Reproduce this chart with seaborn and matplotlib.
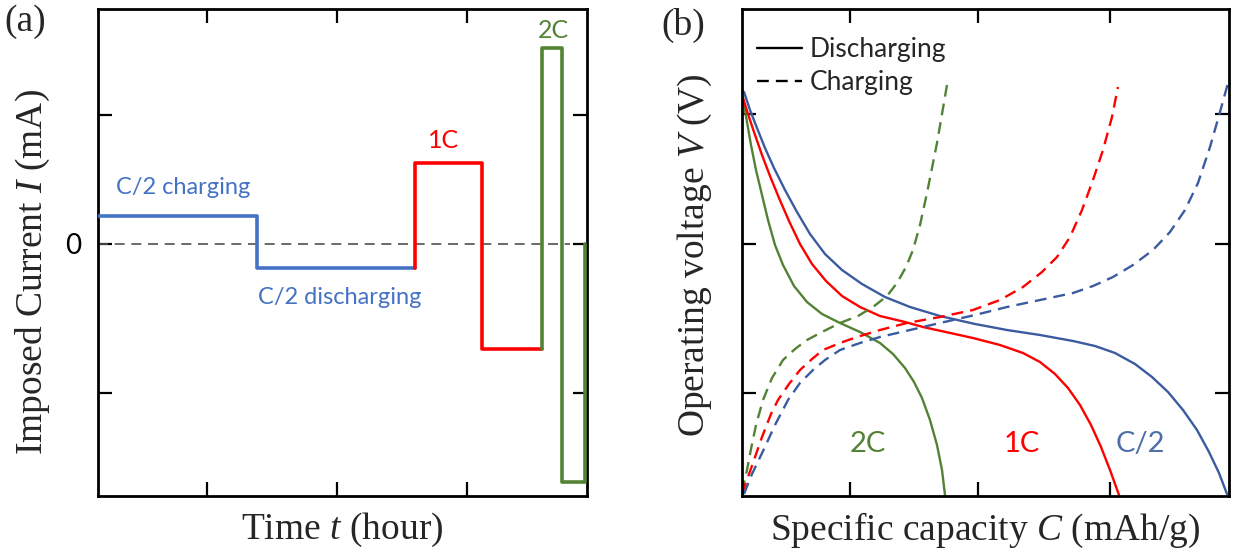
import numpy as np
import pandas as pd
import matplotlib
matplotlib.use("Agg")
import matplotlib.pyplot as plt
from matplotlib.lines import Line2D
import seaborn as sns

# ---------------- data ----------------
# Panel (a): imposed current steps (time, current)
t_half = [0.0, 1.59, 3.17]
I_half = [0.28, -0.24, -0.24]
t_1c = [3.17, 3.17, 3.84, 4.44]
I_1c = [-0.24, 0.81, -1.05, -1.05]
t_2c = [4.44, 4.44, 4.64, 4.87, 4.87]
I_2c = [-1.05, 1.96, -2.38, -2.38, 0.0]

a_xticks = [1.09, 2.39, 3.69]
a_yticks = [1.29, 0.0, -1.49]
a_yticklabels = ["", "0", ""]

# Panel (b): voltage vs capacity curves (capacity, voltage) in arbitrary units
dis_half_c = [0.02, 0.08, 0.15, 0.23, 0.32, 0.43, 0.55, 0.68, 0.83, 1.00, 1.20, 1.43, 1.68, 1.98, 2.33, 2.65, 2.98, 3.31, 3.53, 3.73, 3.93, 4.10, 4.26, 4.41, 4.55, 4.67, 4.77, 4.85]
dis_half_v = [4.04, 3.86, 3.68, 3.48, 3.28, 3.06, 2.84, 2.62, 2.42, 2.26, 2.12, 1.99, 1.89, 1.80, 1.72, 1.66, 1.61, 1.55, 1.50, 1.43, 1.32, 1.19, 1.04, 0.86, 0.66, 0.44, 0.23, 0.02]
dis_1c_c = [0.01, 0.06, 0.12, 0.20, 0.28, 0.37, 0.47, 0.58, 0.70, 0.84, 1.00, 1.18, 1.38, 1.63, 1.81, 2.31, 2.58, 2.81, 2.98, 3.13, 3.26, 3.38, 3.49, 3.59, 3.68, 3.77]
dis_1c_v = [3.98, 3.82, 3.64, 3.41, 3.20, 2.98, 2.75, 2.52, 2.32, 2.15, 2.00, 1.89, 1.80, 1.74, 1.69, 1.58, 1.51, 1.43, 1.34, 1.22, 1.08, 0.91, 0.71, 0.49, 0.26, 0.01]
dis_2c_c = [0.01, 0.05, 0.09, 0.14, 0.20, 0.26, 0.33, 0.41, 0.52, 0.65, 0.80, 0.98, 1.18, 1.38, 1.51, 1.63, 1.72, 1.80, 1.88, 1.95, 2.00, 2.03]
dis_2c_v = [3.98, 3.74, 3.51, 3.26, 3.01, 2.76, 2.51, 2.31, 2.10, 1.94, 1.82, 1.73, 1.64, 1.53, 1.42, 1.28, 1.14, 0.98, 0.76, 0.51, 0.26, 0.01]

chg_2c_c = [0.0, 0.05, 0.09, 0.14, 0.21, 0.30, 0.41, 0.53, 0.65, 0.80, 0.98, 1.16, 1.31, 1.45, 1.55, 1.64, 1.71, 1.78, 1.85, 1.90, 1.95, 2.00, 2.05]
chg_2c_v = [0.04, 0.26, 0.47, 0.71, 0.96, 1.18, 1.36, 1.47, 1.56, 1.64, 1.73, 1.80, 1.89, 2.00, 2.13, 2.29, 2.46, 2.71, 3.03, 3.28, 3.53, 3.82, 4.11]
chg_1c_c = [0.0, 0.06, 0.12, 0.20, 0.29, 0.36, 0.47, 0.58, 0.70, 0.81, 0.98, 1.15, 1.38, 1.65, 1.98, 2.31, 2.58, 2.81, 3.00, 3.15, 3.28, 3.40, 3.51, 3.61, 3.70, 3.76]
chg_1c_v = [0.02, 0.19, 0.36, 0.59, 0.82, 0.96, 1.12, 1.26, 1.37, 1.46, 1.53, 1.59, 1.66, 1.73, 1.79, 1.86, 1.96, 2.09, 2.24, 2.39, 2.59, 2.86, 3.16, 3.46, 3.79, 4.09]
chg_half_c = [0.02, 0.10, 0.22, 0.33, 0.46, 0.58, 0.71, 0.83, 0.98, 1.18, 1.38, 1.68, 1.98, 2.33, 2.65, 2.98, 3.31, 3.51, 3.71, 3.91, 4.11, 4.28, 4.43, 4.56, 4.68, 4.78, 4.86]
chg_half_v = [0.02, 0.22, 0.47, 0.71, 0.96, 1.13, 1.26, 1.36, 1.46, 1.53, 1.59, 1.66, 1.73, 1.81, 1.89, 1.96, 2.03, 2.10, 2.19, 2.31, 2.46, 2.64, 2.86, 3.13, 3.49, 3.84, 4.13]

b_xticks = [1.08, 2.36, 3.68]
b_yticks = [3.82, 2.52, 1.03]

# ---------------- style ----------------
sns.set_theme(style="ticks")
plt.rcParams["font.family"] = ["Lato", "DejaVu Sans"]
plt.rcParams["mathtext.fontset"] = "custom"
plt.rcParams["mathtext.rm"] = "Liberation Serif"
plt.rcParams["mathtext.it"] = "Liberation Serif:italic"

SERIF = ["Liberation Serif", "DejaVu Serif"]
C_BLUE_A = "#4472C4"
C_BLUE_B = "#3B5BA0"
C_RED = "#FF0000"
C_GREEN = "#548235"

fig = plt.figure(figsize=(12.39, 5.54), dpi=100)
axA = fig.add_axes([98 / 1239, 58 / 554, 489 / 1239, 487 / 554])
axB = fig.add_axes([742 / 1239, 58 / 554, 487 / 1239, 487 / 554])

# ---------------- panel (a) ----------------
axA.plot([0, 4.72], [0, 0], color="#505050", lw=1.2, ls=(0, (6, 4)), zorder=1)
for t, I, c in [(t_half, I_half, C_BLUE_A), (t_1c, I_1c, C_RED), (t_2c, I_2c, C_GREEN)]:
    sns.lineplot(x=t, y=I, ax=axA, color=c, lw=2.6, estimator=None, sort=False,
                 drawstyle="steps-post", zorder=3)
axA.set_xlim(0, 4.89)
axA.set_ylim(-2.52, 2.35)
axA.set_xticks(a_xticks)
axA.set_xticklabels([])
axA.set_yticks(a_yticks)
axA.set_yticklabels(a_yticklabels, fontsize=20)
axA.text(0.18, 0.56, "C/2 charging", color=C_BLUE_A, fontsize=17, va="center", ha="left")
axA.text(1.60, -0.53, "C/2 discharging", color=C_BLUE_A, fontsize=17, va="center", ha="left")
axA.text(3.46, 1.04, "1C", color=C_RED, fontsize=18, va="center", ha="center")
axA.text(4.55, 2.14, "2C", color=C_GREEN, fontsize=18, va="center", ha="center")
axA.set_xlabel("Time $t$ (hour)", fontsize=27, family=SERIF)
axA.set_ylabel("Imposed Current $I$ (mA)", fontsize=27, family=SERIF)
axA.xaxis.set_label_coords(0.5, -0.03)
axA.yaxis.set_label_coords(-0.095, 0.46)

# ---------------- panel (b) ----------------
curves = [
    (dis_2c_c, dis_2c_v, C_GREEN, "-"),
    (dis_1c_c, dis_1c_v, C_RED, "-"),
    (dis_half_c, dis_half_v, C_BLUE_B, "-"),
    (chg_2c_c, chg_2c_v, C_GREEN, (0, (5, 3))),
    (chg_1c_c, chg_1c_v, C_RED, (0, (5, 3))),
    (chg_half_c, chg_half_v, C_BLUE_B, (0, (5, 3))),
]
for cx, cv, col, ls in curves:
    sns.lineplot(x=cx, y=cv, ax=axB, color=col, lw=1.7, ls=ls, estimator=None, sort=False)
axB.set_xlim(0, 4.87)
axB.set_ylim(0, 4.87)
axB.set_xticks(b_xticks)
axB.set_xticklabels([])
axB.set_yticks(b_yticks)
axB.set_yticklabels([])
axB.text(1.26, 0.52, "2C", color=C_GREEN, fontsize=21, ha="center", va="center")
axB.text(2.80, 0.52, "1C", color=C_RED, fontsize=21, ha="center", va="center")
axB.text(3.98, 0.52, "C/2", color="#4F6FA8", fontsize=21, ha="center", va="center")
axB.set_xlabel("Specific capacity $C$ (mAh/g)", fontsize=27, family=SERIF)
axB.set_ylabel("Operating voltage $V$ (V)", fontsize=27, family=SERIF)
axB.xaxis.set_label_coords(0.5, -0.03)
axB.yaxis.set_label_coords(-0.058, 0.495)
handles = [Line2D([], [], color="black", lw=1.7, ls="-"),
           Line2D([], [], color="black", lw=1.7, ls=(0, (5, 3)))]
axB.legend(handles, ["Discharging", "Charging"], loc="upper left",
           bbox_to_anchor=(0.031, 0.942), frameon=False, fontsize=19,
           handlelength=1.7, handletextpad=0.3, labelspacing=0.3,
           borderpad=0, borderaxespad=0)

for ax in (axA, axB):
    for s in ax.spines.values():
        s.set_visible(True)
        s.set_linewidth(2.0)
        s.set_color("black")
    ax.tick_params(direction="in", length=10, width=1.6, top=True, right=True,
                   bottom=True, left=True, colors="black", pad=12)
    ax.grid(False)

fig.text(25 / 1239, 1 - 22 / 554, "(a)", fontsize=27, family=SERIF, ha="center", va="center")
fig.text(683 / 1239, 1 - 25 / 554, "(b)", fontsize=27, family=SERIF, ha="center", va="center")

fig.savefig("out.png", dpi=100)
